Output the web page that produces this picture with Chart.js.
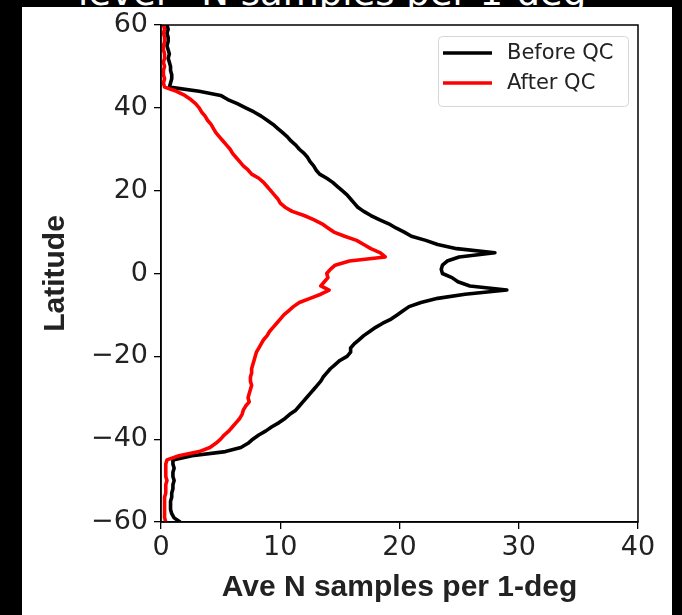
<!DOCTYPE html>
<html>
<head>
<meta charset="utf-8">
<script src="https://cdn.jsdelivr.net/npm/chart.js@4.4.1/dist/chart.umd.min.js"></script>
<style>
  html, body { margin: 0; padding: 0; background: #000; }
  #panel { position: absolute; left: 22px; top: 7px; width: 650px; height: 608px; background: #fff; }
  #cut { position: absolute; left: 22px; top: 0; width: 650px; height: 7px; overflow: hidden; background: #000; }
  #cut span { position: absolute; left: 56px; top: -24px; font: 37px/34px "DejaVu Sans"; color: #fff; white-space: pre; }
  #wrap { position: absolute; left: 0; top: 0; width: 682px; height: 615px; }
</style>
</head>
<body>
<div id="panel"></div>
<div id="cut"><span>level   N samples per 1-deg</span></div>
<div id="wrap"><canvas id="latChart" width="682" height="615"></canvas></div>
<script>
// latitude rows, 60N to 60S
const latitudes = [
  60, 59, 58, 57, 56, 55, 54, 53, 52, 51, 50, 49, 48, 47, 46, 45, 44, 43, 42, 41,
  40, 39, 38, 37, 36, 35, 34, 33, 32, 31, 30, 29, 28, 27, 26, 25, 24, 23, 22, 21,
  20, 19, 18, 17, 16, 15, 14, 13, 12, 11, 10, 9, 8, 7, 6, 5, 4, 3, 2, 1,
  0, -1, -2, -3, -4, -5, -6, -7, -8, -9, -10, -11, -12, -13, -14, -15, -16, -17, -18, -19,
  -20, -21, -22, -23, -24, -25, -26, -27, -28, -29, -30, -31, -32, -33, -34, -35, -36, -37, -38, -39,
  -40, -41, -42, -43, -44, -45, -46, -47, -48, -49, -50, -51, -52, -53, -54, -55, -56, -57, -58, -59,
  -60
];

const beforeQC = [
  0.5, 0.6, 0.5, 0.6, 0.6, 0.5, 0.6, 0.7, 0.6, 0.7, 0.8, 0.8, 0.9, 0.9, 0.8, 0.7, 3.2, 5.0, 5.6, 6.4,
  7.1, 7.8, 8.4, 8.9, 9.4, 9.8, 10.2, 10.6, 10.9, 11.3, 11.6, 12.0, 12.3, 12.5, 12.8, 13.0, 13.3, 13.9, 14.4, 14.8,
  15.2, 15.6, 15.9, 16.2, 16.5, 17.0, 17.6, 18.3, 19.1, 19.7, 20.4, 21.0, 22.2, 23.2, 24.8, 28.0, 25.0, 24.0, 23.6, 23.5,
  23.6, 24.4, 24.9, 25.9, 29.0, 25.5, 23.2, 21.8, 20.8, 20.3, 19.8, 19.3, 18.6, 18.0, 17.5, 17.0, 16.6, 16.2, 15.9, 15.9,
  15.6, 15.0, 14.6, 14.2, 13.9, 13.6, 13.4, 13.1, 12.8, 12.5, 12.2, 11.9, 11.6, 11.3, 10.8, 10.4, 9.9, 9.3, 8.8, 8.2,
  7.7, 7.3, 6.7, 5.4, 2.6, 1.0, 1.0, 1.1, 1.0, 1.0, 1.1, 1.0, 1.0, 0.9, 0.9, 0.8, 0.8, 0.8, 0.9, 1.1,
  1.6
];

const afterQC = [
  0.2, 0.3, 0.2, 0.3, 0.3, 0.2, 0.2, 0.3, 0.3, 0.2, 0.3, 0.2, 0.2, 0.3, 0.2, 0.3, 1.3, 2.0, 2.5, 2.9,
  3.2, 3.4, 3.7, 3.9, 4.2, 4.4, 4.6, 4.9, 5.2, 5.5, 5.8, 6.0, 6.3, 6.6, 6.9, 7.3, 7.6, 8.2, 8.6, 8.9,
  9.2, 9.5, 9.8, 10.0, 10.4, 11.0, 12.0, 12.8, 13.5, 14.0, 14.5, 15.4, 16.4, 17.0, 17.6, 18.4, 18.8, 15.8, 14.6, 14.2,
  13.9, 14.0, 13.7, 13.4, 14.1, 13.4, 12.5, 11.6, 11.1, 10.7, 10.3, 10.0, 9.7, 9.4, 9.1, 8.9, 8.6, 8.4, 8.2, 8.0,
  7.9, 7.8, 7.7, 7.6, 7.6, 7.5, 7.5, 7.6, 7.5, 7.4, 7.3, 7.4, 7.1, 6.9, 6.8, 6.6, 6.3, 6.0, 5.7, 5.3,
  5.0, 4.6, 4.1, 3.2, 1.5, 0.5, 0.4, 0.4, 0.4, 0.4, 0.5, 0.4, 0.4, 0.4, 0.3, 0.3, 0.3, 0.3, 0.3, 0.3,
  0.4
];

const xTicks = [0, 10, 20, 30, 40];
const yTicks = [-60, -40, -20, 0, 20, 40, 60];

const toPoints = vals => vals.map((v, i) => ({ x: v, y: latitudes[i] }));
const minus = v => String(v).replace('-', '\u2212');

// box around the plot plus the legend in the upper right
const framePlugin = {
  id: 'frame',
  afterDraw(chart) {
    const { ctx, chartArea: a } = chart;
    ctx.save();
    ctx.strokeStyle = '#000';
    ctx.lineWidth = 1.5;
    ctx.strokeRect(a.left, a.top, a.right - a.left, a.bottom - a.top);

    const bx = 438, by = 36, bw = 190, bh = 70;
    ctx.fillStyle = 'rgba(255,255,255,0.8)';
    ctx.strokeStyle = '#d6d6d6';
    ctx.lineWidth = 1;
    ctx.beginPath();
    ctx.roundRect(bx + 0.5, by + 0.5, bw, bh, 4);
    ctx.fill();
    ctx.stroke();

    ctx.font = '21px "DejaVu Sans"';
    ctx.textBaseline = 'middle';
    chart.data.datasets.forEach((ds, i) => {
      const y = by + 17 + i * 30;
      ctx.strokeStyle = ds.borderColor;
      ctx.lineWidth = 3.5;
      ctx.beginPath();
      ctx.moveTo(bx + 5, y);
      ctx.lineTo(bx + 54, y);
      ctx.stroke();
      ctx.fillStyle = '#222';
      ctx.fillText(ds.label, bx + 69, y + 1);
    });
    ctx.restore();
  }
};

new Chart(document.getElementById('latChart'), {
  type: 'scatter',
  data: {
    datasets: [
      { label: 'Before QC', data: toPoints(beforeQC), borderColor: '#000000', order: 2 },
      { label: 'After QC', data: toPoints(afterQC), borderColor: '#ff0000', order: 1 }
    ]
  },
  options: {
    responsive: false,
    animation: false,
    showLine: true,
    layout: { padding: { top: 25, right: 44, left: 0, bottom: 0 } },
    elements: {
      point: { radius: 0 },
      line: { borderWidth: 3.6, tension: 0, fill: false, borderJoinStyle: 'round', borderCapStyle: 'round' }
    },
    plugins: { legend: { display: false }, tooltip: { enabled: false } },
    scales: {
      x: {
        type: 'linear', min: 0, max: 40,
        afterBuildTicks: s => { s.ticks = xTicks.map(v => ({ value: v })); },
        afterFit: s => { s.height = 93; },
        grid: { drawOnChartArea: false, drawTicks: true, tickLength: 7, color: '#000', lineWidth: 1.3 },
        border: { display: true, color: '#000', width: 1.5 },
        ticks: { color: '#222', padding: 3, font: { family: 'DejaVu Sans', size: 27 }, maxRotation: 0, callback: v => minus(v) },
        title: { display: true, text: 'Ave N samples per 1-deg', color: '#222',
                 font: { family: 'Liberation Sans', size: 30, weight: 'bold' }, padding: { top: 0, bottom: 9 } }
      },
      y: {
        type: 'linear', min: -60, max: 60,
        afterBuildTicks: s => { s.ticks = yTicks.map(v => ({ value: v })); },
        afterFit: s => { s.width = 161; },
        grid: { drawOnChartArea: false, drawTicks: true, tickLength: 7, color: '#000', lineWidth: 1.3 },
        border: { display: true, color: '#000', width: 1.5 },
        ticks: { color: '#222', padding: 6, font: { family: 'DejaVu Sans', size: 27 }, callback: v => minus(v) },
        title: { display: true, text: 'Latitude', color: '#222',
                 font: { family: 'Liberation Sans', size: 30, weight: 'bold' }, padding: { top: 38, bottom: 0 } }
      }
    }
  },
  plugins: [framePlugin]
});
</script>
</body>
</html>
